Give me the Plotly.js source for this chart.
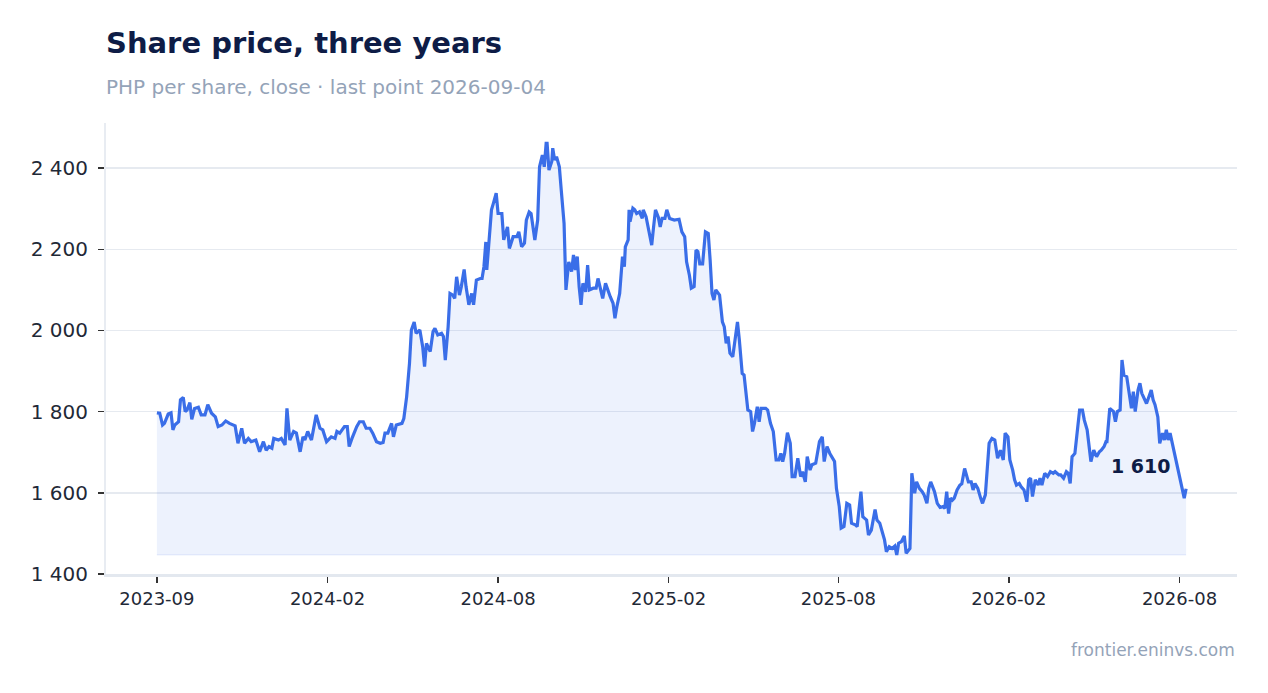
<!DOCTYPE html>
<html>
<head>
<meta charset="utf-8">
<script src="https://cdn.plot.ly/plotly-3.0.1.min.js"></script>
<style>
	html, body { margin: 0; padding: 0; background: #ffffff; }
	#chart { width: 1268px; height: 693px; }
</style>
</head>
<body>
<div id="chart"></div>
<script>
// closes; dayOffset counts days from startDate
const startDate = '2023-09-08';
const dayOffset = [
	0, 3, 6, 8, 12, 15, 17, 19, 23, 25,
	28, 30, 32, 35, 37, 40, 44, 47, 51, 54,
	58, 62, 65, 69, 73, 77, 83, 86, 90, 93,
	97, 100, 105, 109, 113, 116, 119, 122, 124, 129,
	132, 136, 138, 141, 145, 148, 152, 155, 157, 160,
	164, 169, 173, 176, 180, 185, 189, 191, 194, 199,
	202, 204, 207, 212, 215, 219, 222, 226, 229, 233,
	237, 240, 242, 245, 249, 251, 254, 260, 262, 265,
	268, 270, 273, 275, 279, 282, 284, 286, 290, 293,
	295, 298, 302, 304, 306, 309, 311, 314, 316, 318,
	321, 323, 326, 328, 331, 334, 336, 339, 343, 345,
	347, 349, 350, 353, 355, 357, 360, 362, 366, 368,
	372, 374, 378, 382, 384, 387, 390, 392, 395, 397,
	401, 404, 406, 409, 411, 413, 414, 416, 419, 420,
	422, 424, 427, 429, 431, 432, 434, 437, 440, 442,
	444, 446, 448, 450, 452, 455, 457, 459, 463, 466,
	468, 471, 473, 476, 478, 481, 484, 486, 488, 491,
	494, 496, 497, 500, 501, 502, 505, 507, 509, 512,
	515, 516, 519, 522, 525, 527, 529, 532, 534, 536,
	539, 541, 544, 549, 554, 557, 560, 562, 565, 567,
	570, 572, 574, 576, 579, 582, 585, 587, 589, 591,
	593, 597, 600, 602, 604, 606, 608, 611, 613, 616,
	618, 621, 623, 625, 627, 630, 632, 634, 637, 639,
	641, 646, 648, 651, 654, 657, 660, 662, 664, 666,
	669, 672, 674, 677, 680, 683, 685, 688, 690, 693,
	695, 699, 701, 703, 706, 708, 711, 714, 719, 721,
	724, 726, 729, 732, 735, 737, 741, 743, 747, 749,
	751, 753, 755, 758, 762, 764, 767, 770, 772, 774,
	777, 780, 783, 785, 787, 790, 793, 795, 799, 801,
	804, 806, 809, 812, 814, 817, 819, 821, 825, 828,
	831, 834, 836, 838, 840, 842, 844, 846, 849, 852,
	854, 857, 859, 861, 864, 866, 868, 871, 874, 876,
	879, 881, 883, 886, 889, 892, 895, 898, 900, 903,
	905, 908, 910, 912, 915, 917, 920, 923, 925, 927,
	929, 932, 935, 937, 939, 942, 945, 948, 951, 953,
	957, 959, 962, 965, 967, 969, 971, 974, 976, 979,
	982, 984, 987, 989, 991, 994, 997, 1000, 1002, 1005,
	1007, 1008, 1011, 1015, 1017, 1019, 1022, 1024, 1026, 1029,
	1031, 1034, 1036, 1038, 1041, 1043, 1045, 1048, 1050, 1052,
	1055, 1057, 1059, 1062, 1064, 1067, 1069, 1071, 1073, 1075,
	1077, 1080, 1082, 1085, 1088, 1090, 1092
];
const closePrice = [
	1797, 1796, 1767, 1771, 1794, 1797, 1755, 1767, 1775, 1829,
	1835, 1800, 1804, 1822, 1781, 1808, 1811, 1792, 1792, 1817,
	1796, 1787, 1763, 1767, 1777, 1771, 1765, 1722, 1759, 1722,
	1734, 1726, 1730, 1701, 1726, 1705, 1714, 1710, 1734, 1730,
	1734, 1718, 1808, 1730, 1751, 1747, 1701, 1738, 1730, 1751,
	1730, 1792, 1759, 1755, 1726, 1738, 1734, 1751, 1747, 1763,
	1763, 1714, 1734, 1763, 1775, 1775, 1759, 1759, 1747, 1726,
	1722, 1724, 1747, 1747, 1771, 1738, 1767, 1771, 1783, 1837,
	1919, 2001, 2021, 1993, 2001, 1960, 1911, 1968, 1948, 1997,
	2005, 1989, 1993, 1985, 1927, 2009, 2091, 2087, 2079, 2132,
	2087, 2108, 2150, 2108, 2063, 2091, 2063, 2124, 2128, 2128,
	2157, 2218, 2149, 2231, 2297, 2313, 2338, 2288, 2288, 2223,
	2255, 2202, 2231, 2231, 2243, 2206, 2215, 2272, 2292, 2288,
	2223, 2272, 2403, 2432, 2403, 2461, 2461, 2395, 2416, 2449,
	2420, 2428, 2403, 2346, 2272, 2264, 2100, 2169, 2145, 2186,
	2149, 2182, 2108, 2063, 2116, 2095, 2161, 2100, 2104, 2104,
	2128, 2100, 2079, 2116, 2100, 2083, 2067, 2030, 2058, 2091,
	2182, 2157, 2206, 2223, 2297, 2268, 2301, 2297, 2288, 2292,
	2276, 2297, 2280, 2247, 2210, 2255, 2297, 2279, 2255, 2276,
	2276, 2297, 2276, 2272, 2274, 2243, 2231, 2169, 2136, 2104,
	2108, 2198, 2194, 2164, 2164, 2243, 2239, 2173, 2091, 2075,
	2100, 2087, 2021, 2009, 1968, 1985, 1944, 1935, 1968, 2021,
	1976, 1894, 1890, 1837, 1804, 1800, 1751, 1771, 1812, 1775,
	1808, 1808, 1804, 1771, 1751, 1681, 1681, 1697, 1677, 1697,
	1748, 1722, 1640, 1640, 1685, 1640, 1652, 1627, 1689, 1656,
	1669, 1673, 1697, 1726, 1738, 1677, 1714, 1697, 1677, 1611,
	1566, 1513, 1517, 1574, 1570, 1525, 1521, 1517, 1603, 1541,
	1537, 1533, 1496, 1508, 1559, 1533, 1525, 1500, 1484, 1455,
	1467, 1463, 1469, 1447, 1476, 1480, 1494, 1451, 1463, 1648,
	1599, 1627, 1611, 1603, 1595, 1574, 1611, 1627, 1603, 1574,
	1564, 1566, 1562, 1603, 1549, 1587, 1582, 1587, 1607, 1619,
	1622, 1660, 1640, 1627, 1627, 1607, 1623, 1611, 1587, 1574,
	1595, 1648, 1722, 1734, 1730, 1685, 1705, 1681, 1747, 1738,
	1681, 1656, 1632, 1619, 1623, 1615, 1607, 1578, 1632, 1636,
	1591, 1632, 1619, 1636, 1619, 1648, 1640, 1652, 1648, 1652,
	1644, 1644, 1636, 1652, 1648, 1623, 1689, 1697, 1738, 1804,
	1804, 1779, 1755, 1714, 1677, 1705, 1689, 1701, 1705, 1714,
	1726, 1726, 1808, 1800, 1775, 1800, 1804, 1927, 1890, 1886,
	1853, 1808, 1849, 1800, 1853, 1870, 1845, 1829, 1820, 1833,
	1853, 1829, 1817, 1787, 1722, 1747, 1730, 1755, 1730, 1747,
	1726, 1689, 1669, 1640, 1607, 1587, 1610
];
const tickDates = ['2023-09-08', '2024-03-07', '2024-09-04', '2025-03-04', '2025-08-31', '2026-02-28', '2026-08-28'];
const tickLabels = ['2023-09', '2024-02', '2024-08', '2025-02', '2025-08', '2026-02', '2026-08'];
const yTicks = [1400, 1600, 1800, 2000, 2200, 2400];

function toDates(start, offsets) {
	var d0 = new Date(start + 'T00:00:00Z').getTime();
	return offsets.map(function (k) {
		return new Date(d0 + k * 86400000).toISOString().slice(0, 10);
	});
}

function spaced(v) {
	return String(v).replace(/\B(?=(\d{3})+(?!\d))/g, ' ');
}

var dates = toDates(startDate, dayOffset);
var floorVal = Math.min(...closePrice);
var lastDate = dates[dates.length - 1];
var lastVal = closePrice[closePrice.length - 1];

var base = {
	x: dates, y: dates.map(() => floorVal), type: 'scatter', mode: 'lines',
	line: {color: 'rgba(59,111,232,0.12)', width: 1}, hoverinfo: 'skip', showlegend: false
};
var price = {
	x: dates, y: closePrice, type: 'scatter', mode: 'lines',
	fill: 'tonexty', fillcolor: 'rgba(59,111,232,0.09)',
	line: {color: '#3a6ee8', width: 3.2}, showlegend: false
};

var font = 'DejaVu Sans, sans-serif';
var layout = {
	width: 1268, height: 693,
	margin: {l: 106, r: 31, t: 123, b: 119},
	paper_bgcolor: '#ffffff', plot_bgcolor: '#ffffff',
	font: {family: font, color: '#1f2937'},
	title: {
		text: '<b>Share price, three years</b>',
		font: {family: font, size: 29, color: '#0e1c46'},
		xref: 'paper', x: 0, xanchor: 'left',
		yref: 'container', y: 1 - 43 / 693, yanchor: 'middle'
	},
	xaxis: {
		type: 'date',
		range: ['2023-07-16', '2026-10-28'],
		tickvals: tickDates, ticktext: tickLabels,
		showgrid: false, zeroline: false,
		showline: true, linecolor: '#e3e8ef', linewidth: 3,
		ticks: 'outside', ticklen: 6, tickwidth: 1.5, tickcolor: '#333',
		tickfont: {family: font, size: 18, color: '#1f2937'}
	},
	yaxis: {
		range: [1400, 2511],
		tickvals: yTicks, ticktext: yTicks.map(spaced),
		showgrid: true, gridcolor: '#e6eaf0', gridwidth: 1.5,
		zeroline: false,
		showline: true, linecolor: '#e8ecf2', linewidth: 2,
		ticks: 'outside', ticklen: 6, tickwidth: 1.5, tickcolor: '#333',
		ticklabelstandoff: 6,
		tickfont: {family: font, size: 20, color: '#1f2937'}
	},
	annotations: [
		{
			text: 'PHP per share, close · last point ' + lastDate,
			xref: 'paper', yref: 'paper', x: 0, y: 1 + (123 - 87) / 451,
			xanchor: 'left', yanchor: 'middle', xshift: -2, showarrow: false,
			font: {family: font, size: 20, color: '#94a3b8'}
		},
		{
			text: 'frontier.eninvs.com',
			xref: 'paper', yref: 'paper', x: 1, y: -(650 - 574) / 451,
			xanchor: 'right', yanchor: 'middle', showarrow: false,
			font: {family: font, size: 17, color: '#94a3b8'}
		},
		{
			text: '<b>' + spaced(lastVal) + '</b>',
			x: lastDate, y: lastVal,
			xanchor: 'right', yanchor: 'middle', xshift: -13, yshift: 23,
			showarrow: false,
			font: {family: font, size: 19, color: '#0e1c46'}
		}
	]
};

Plotly.newPlot('chart', [base, price], layout, {displayModeBar: false, staticPlot: true});
</script>
</body>
</html>
